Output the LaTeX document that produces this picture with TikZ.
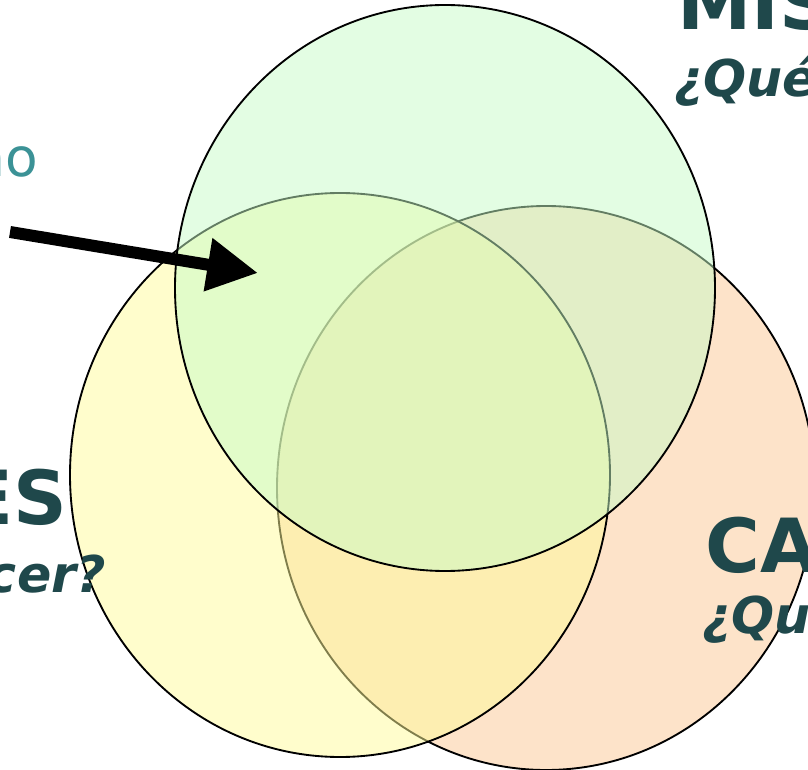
\documentclass[tikz,border=0pt]{standalone}
\usepackage{fontspec}
\setmainfont{DejaVu Sans}
\usetikzlibrary{arrows.meta,positioning}

\definecolor{mision}{RGB}{199,251,199}
\definecolor{profesion}{RGB}{255,251,153}
\definecolor{vocacion}{RGB}{251,199,147}
\definecolor{titulo}{RGB}{31,72,75}
\definecolor{nota}{RGB}{59,146,150}

\tikzset{
  borde/.style={draw=black, line width=1.4pt},
  titulo/.style={inner sep=0pt, text=titulo, font=\fontsize{56}{60}\selectfont\bfseries},
  pregunta/.style={inner sep=0pt, text=titulo, font=\fontsize{38}{42}\selectfont\bfseries\itshape},
}

\begin{document}
\begin{tikzpicture}[x=0.75pt, y=-0.75pt]

    \useasboundingbox (0,0) rectangle (808,770);
    \clip (0,0) rectangle (808,770);

    % Add the circles
    \fill[vocacion, fill opacity=0.5] (546,488) ellipse [x radius=269, y radius=282];
    \draw[borde] (546,488) ellipse [x radius=269, y radius=282];
    \fill[profesion, fill opacity=0.5] (340,475) ellipse [x radius=270, y radius=282];
    \draw[borde] (340,475) ellipse [x radius=270, y radius=282];
    \fill[mision, fill opacity=0.5] (445,288) ellipse [x radius=270, y radius=283];
    \draw[borde] (445,288) ellipse [x radius=270, y radius=283];

    % Add the labels
    \node[titulo, anchor=base west]   (mis)  at (677,30)  {MIS};
    \node[pregunta, anchor=base west] (qmis) at (674,97)  {¿Qué};
    \node[titulo, anchor=base east]   (pro)  at (68,524)  {ES};
    \node[pregunta, anchor=base east] (qpro) at (106,592) {cer?};
    \node[titulo, anchor=base west]   (voc)  at (705,572) {CA};
    \node[pregunta, anchor=base west] (qvoc) at (702,633) {¿Qu};
    \node[inner sep=0pt, anchor=base east, text=nota,
          font=\fontsize{40}{44}\selectfont] (nota) at (38,177) {no};

    % Connect the note with the circles
    \coordinate (inicio) at (10,232);
    \coordinate (punta)  at (258,273);
    \draw[line width=9pt, -{Triangle[length=38pt, width=38pt]}] (inicio) -- (punta);

\end{tikzpicture}
\end{document}
